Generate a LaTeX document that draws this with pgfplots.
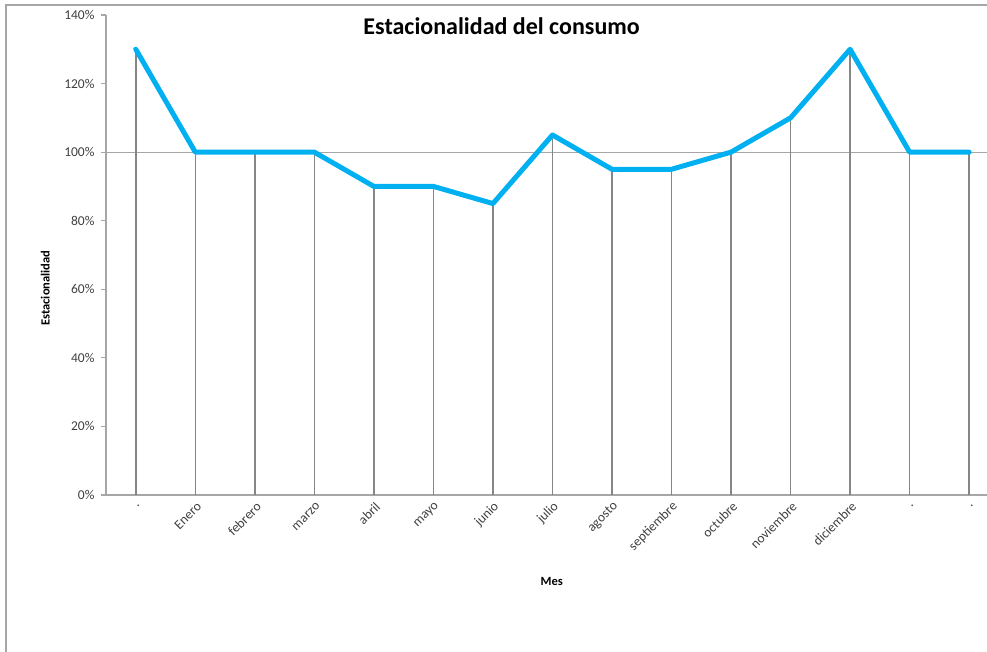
\documentclass[border=0pt]{standalone}
\usepackage{fontspec}
\setmainfont{Carlito}
\usepackage{pgfplots}
\pgfplotsset{compat=1.18}
\definecolor{linecyan}{HTML}{00B0F0}
\definecolor{axgray}{HTML}{A6A6A6}
\definecolor{dropgray}{HTML}{868686}
\definecolor{ticktext}{HTML}{404040}
\begin{document}
\begin{tikzpicture}[x=1pt,y=1pt]
\path[use as bounding box] (0,0) rectangle (987,652);
\draw[color=axgray, line width=1.3pt] (6,-20) -- (6,647) -- (1010,647);
\begin{axis}[
  at={(106pt,157pt)}, anchor=south west,
  scale only axis, width=881pt, height=480pt,
  xmin=-0.5, xmax=14.3, ymin=0, ymax=140,
  axis x line=bottom, axis y line=left,
  axis line style={-, color=axgray, line width=1.2pt},
  xtick={0,...,14},
  xticklabels={., Enero, febrero, marzo, abril, mayo, junio, julio, agosto, septiembre, octubre, noviembre, diciembre, ., .},
  x tick label style={rotate=45, anchor=east, font=\fontsize{13.5}{15}\selectfont, text=ticktext, yshift=-6pt, xshift=3pt},
  major x tick style={draw=none},
  ytick={0,20,...,140},
  yticklabel={\pgfmathprintnumber[assume math mode=true]{\tick}\%},
  y tick label style={font=\fontsize{13.5}{15}\selectfont, text=ticktext, xshift=-3pt},
  y tick style={color=axgray, line width=1.2pt},
  tick align=outside, major tick length=5pt,
  extra y ticks={100}, extra y tick labels={},
  extra y tick style={grid=major, major grid style={color=axgray, line width=1.2pt}, major tick length=0pt},
  title={Estacionalidad del consumo},
  title style={at={(axis description cs:0.449,0.965)}, anchor=center, font=\bfseries\fontsize{24}{28}\selectfont},
  xlabel={Mes},
  xlabel style={at={(axis description cs:0.506,-0.181)}, anchor=center, font=\bfseries\fontsize{12.5}{14}\selectfont},
  ylabel={Estacionalidad},
  ylabel style={at={(axis description cs:-0.069,0.431)}, anchor=center, font=\bfseries\fontsize{12.5}{14}\selectfont},
  clip=false,
]
\addplot[ycomb, color=dropgray, line width=1.5pt, no marks] coordinates {
(0,130) (1,100) (2,100) (3,100) (4,90) (5,90) (6,85) (7,105) (8,95) (9,95) (10,100) (11,110) (12,130) (13,100) (14,100)};
\addplot[color=linecyan, line width=5pt, line join=round, line cap=round, no marks] coordinates {
(0,130) (1,100) (2,100) (3,100) (4,90) (5,90) (6,85) (7,105) (8,95) (9,95) (10,100) (11,110) (12,130) (13,100) (14,100)};
\end{axis}
\end{tikzpicture}
\end{document}
